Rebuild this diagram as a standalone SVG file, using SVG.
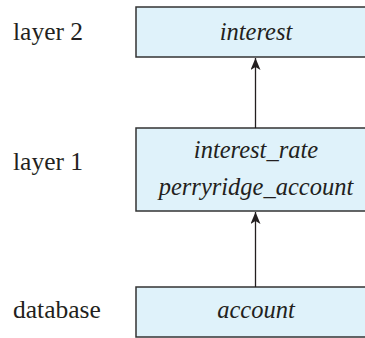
<svg xmlns="http://www.w3.org/2000/svg" width="365" height="338" viewBox="0 0 365 338">
<style>
.box{fill:#dff2fa;stroke:#333;stroke-width:1.5}
.lbl{font-family:'Liberation Serif','Times New Roman',serif;font-size:25.5px;fill:#231f20}
.it{font-family:'Liberation Serif','Times New Roman',serif;font-style:italic;font-size:24.5px;fill:#231f20;text-anchor:middle}
.edge{stroke:#231f20;stroke-width:1.3;fill:none}
</style>
<defs>
<marker id="ah" viewBox="0 0 12 10" refX="12" refY="5" markerWidth="12" markerHeight="10" markerUnits="userSpaceOnUse" orient="auto">
<path d="M0,0 L12,5 L0,10 L3,5 Z" fill="#231f20"/>
</marker>
</defs>
<g id="label-layer2"><text class="lbl" x="13" y="39.5">layer 2</text></g>
<g id="label-layer1"><text class="lbl" x="13" y="170">layer 1</text></g>
<g id="label-database"><text class="lbl" x="13" y="318">database</text></g>
<g id="node-interest">
<rect class="box" x="136" y="7" width="240" height="50"/>
<text class="it" x="256" y="39.5">interest</text>
</g>
<g id="node-layer1">
<rect class="box" x="136" y="128" width="240" height="83"/>
<text class="it" x="256" y="158">interest_rate</text>
<text class="it" x="256" y="195">perryridge_account</text>
</g>
<g id="node-account">
<rect class="box" x="136" y="287" width="240" height="50"/>
<text class="it" x="256" y="318">account</text>
</g>
<g id="connectors">
<line class="edge" x1="255.5" y1="128" x2="255.5" y2="58" marker-end="url(#ah)"/>
<line class="edge" x1="255.5" y1="287" x2="255.5" y2="212" marker-end="url(#ah)"/>
</g>
</svg>
